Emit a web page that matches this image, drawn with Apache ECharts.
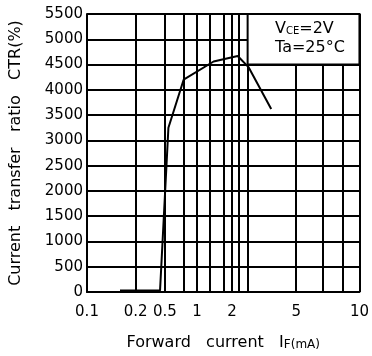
<!DOCTYPE html>
<html>
<head>
<meta charset="utf-8">
<script src="https://cdn.jsdelivr.net/npm/echarts@6/dist/echarts.min.js"></script>
<style>
  html, body { margin: 0; padding: 0; background: #fff; }
  #chart { width: 372px; height: 356px; }
</style>
</head>
<body>
<div id="chart"></div>
<script>
// labelled ticks of the forward current axis (mA)
const tickLabels = ['0.1', '0.2', '0.5', '1', '2', '5', '10'];
const tickCurrents = [0.1, 0.2, 0.5, 1, 2, 5, 10];
// unlabelled vertical grid lines (mA)
const minorCurrents = [0.75, 1.3, 1.7, 2.2, 2.5, 6.7, 8.3];

// CTR curve
const forwardCurrent = [0.16, 0.43, 0.54, 0.75, 1.39, 2.17, 2.53, 3.5];
const ctr = [30, 30, 3250, 4200, 4560, 4670, 4450, 3620];

const yTicks = [0, 500, 1000, 1500, 2000, 2500, 3000, 3500, 4000, 4500, 5000, 5500];

// the printed axis is not a clean log scale, so each decade piece gets its own stretch
const tickSpots = [0, 50, 80, 113, 149, 215, 280];
function xPos(mA) {
  for (let i = 1; i < tickCurrents.length; i++) {
    if (mA <= tickCurrents[i] || i === tickCurrents.length - 1) {
      const a = tickCurrents[i - 1], b = tickCurrents[i];
      const f = Math.log(mA / a) / Math.log(b / a);
      return tickSpots[i - 1] + f * (tickSpots[i] - tickSpots[i - 1]);
    }
  }
}

const gridValues = tickCurrents.concat(minorCurrents).map(xPos).sort((a, b) => a - b);
const labelValues = tickCurrents.map(xPos);
const font = 'DejaVu Sans';

const myChart = echarts.init(document.getElementById('chart'));
myChart.setOption({
  animation: false,
  grid: { left: 84, right: 8, top: 14, bottom: 63 },
  xAxis: {
    type: 'value',
    min: 0,
    max: tickSpots[tickSpots.length - 1],
    name: '{a|Forward   current   I}{b|F(mA)}',
    nameLocation: 'middle',
    nameGap: 43,
    nameTextStyle: {
      rich: {
        a: { fontFamily: font, fontSize: 16, color: '#000' },
        b: { fontFamily: font, fontSize: 12, color: '#000', padding: [3, 0, 0, 0] }
      }
    },
    axisLine: { show: true, lineStyle: { color: '#000', width: 2 } },
    axisTick: { show: false, customValues: gridValues },
    axisLabel: {
      customValues: labelValues,
      margin: 13,
      fontFamily: font,
      fontSize: 15,
      color: '#000',
      formatter: (v) => {
        let best = 0;
        labelValues.forEach((p, i) => { if (Math.abs(p - v) < Math.abs(labelValues[best] - v)) best = i; });
        return tickLabels[best];
      }
    },
    splitLine: { show: true, customValues: gridValues, lineStyle: { color: '#000', width: 2 } }
  },
  yAxis: {
    type: 'value',
    min: 0,
    max: 5500,
    interval: 500,
    name: 'Current   transfer   ratio   CTR(%)',
    nameLocation: 'middle',
    nameGap: 63,
    nameTextStyle: { fontFamily: font, fontSize: 16, color: '#000' },
    axisLine: { show: true, lineStyle: { color: '#000', width: 2 } },
    axisTick: { show: false },
    axisLabel: {
      margin: 4,
      fontFamily: font,
      fontSize: 15,
      color: '#000',
      formatter: (v) => yTicks.indexOf(v) >= 0 ? String(v) : ''
    },
    splitLine: { show: true, lineStyle: { color: '#000', width: 2 } }
  },
  series: [{
    type: 'line',
    symbol: 'none',
    lineStyle: { color: '#000', width: 2 },
    data: forwardCurrent.map((c, i) => [xPos(c), ctr[i]]),
    markArea: {
      silent: true,
      itemStyle: { color: '#fff', borderColor: '#000', borderWidth: 2 },
      data: [[
        { xAxis: xPos(2.5), yAxis: 4500 },
        { xAxis: tickSpots[tickSpots.length - 1], yAxis: 5500 }
      ]]
    }
  }],
  graphic: [{
    type: 'text',
    left: 275,
    top: 21,
    z: 100,
    style: {
      text: '{a|V}{b|CE}{a|=2V}\n{a|Ta=25°C}',
      rich: {
        a: { fontFamily: font, fontSize: 16, fill: '#000', lineHeight: 19 },
        b: { fontFamily: font, fontSize: 10, fill: '#000', lineHeight: 19, padding: [4, 0, 0, 0] }
      }
    }
  }]
});
</script>
</body>
</html>
